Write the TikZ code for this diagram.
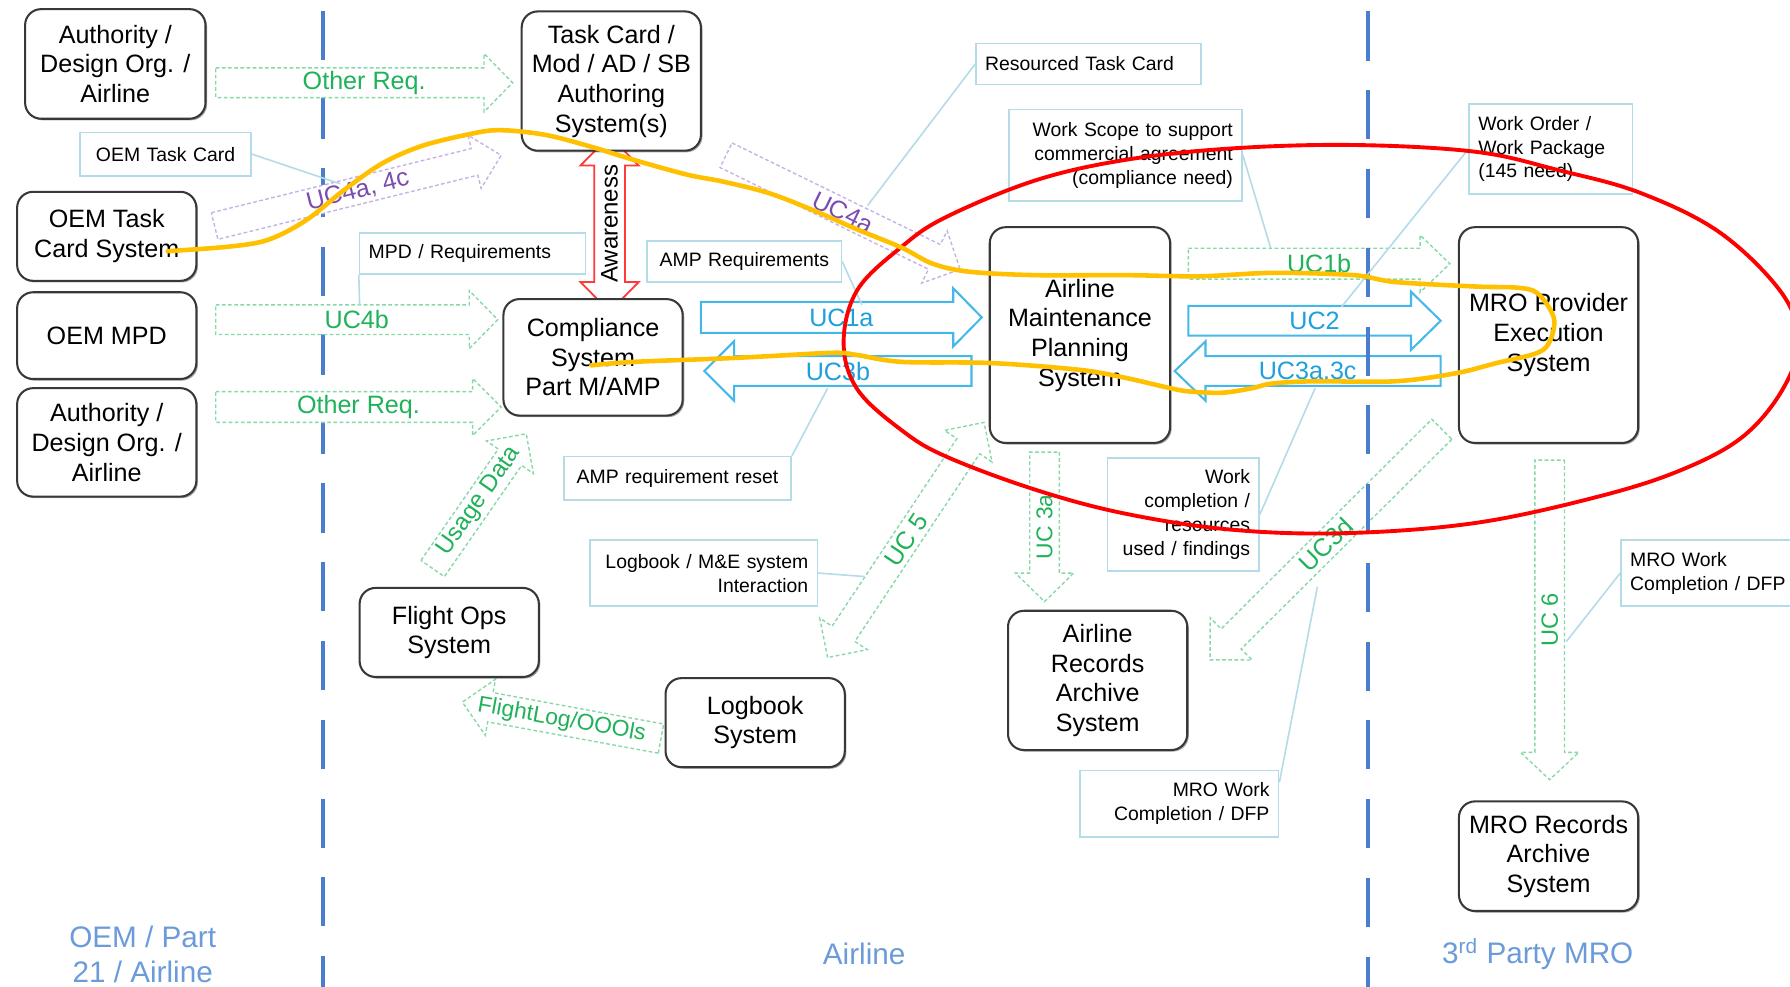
\documentclass[tikz,border=0pt]{standalone}
\usepackage{fontspec}
\setmainfont{Liberation Sans}
\usetikzlibrary{calc,shadows}

\definecolor{lanecol}{HTML}{4A7DCC}
\definecolor{lanetxt}{HTML}{6B9BD9}
\definecolor{callcol}{HTML}{B3DCE8}
\definecolor{grnline}{HTML}{86D9A6}
\definecolor{grntxt}{HTML}{1FB259}
\definecolor{purline}{HTML}{C6B1E4}
\definecolor{purtxt}{HTML}{7B4DB3}
\definecolor{cyanline}{HTML}{45B8EA}
\definecolor{cyantxt}{HTML}{1FA0DE}
\definecolor{awarecol}{HTML}{FF3A3A}
\definecolor{hiorange}{HTML}{FFC000}
\definecolor{hired}{HTML}{FF0000}

% one-headed block arrow: style, tail, tip, body half width, head half width, head length
\newcommand\flowarrow[6]{%
  \coordinate (fa-h) at ($(#3)!#6!(#2)$);
  \draw[#1] ($(#2)!#4!90:(#3)$) -- ($(fa-h)!#4!90:(#3)$) -- ($(fa-h)!#5!90:(#3)$) -- (#3)
    -- ($(fa-h)!#5!-90:(#3)$) -- ($(fa-h)!#4!-90:(#3)$) -- ($(#2)!#4!-90:(#3)$) -- cycle;
}
% two-headed block arrow: style, end a, end b, body half width, head half width, head length
\newcommand\twowayarrow[6]{%
  \coordinate (ta-a) at ($(#2)!#6!(#3)$);
  \coordinate (ta-b) at ($(#3)!#6!(#2)$);
  \draw[#1] (#2) -- ($(ta-a)!#5!90:(#3)$) -- ($(ta-a)!#4!90:(#3)$) -- ($(ta-b)!#4!-90:(#2)$)
    -- ($(ta-b)!#5!-90:(#2)$) -- (#3) -- ($(ta-b)!#5!90:(#2)$) -- ($(ta-b)!#4!90:(#2)$)
    -- ($(ta-a)!#4!-90:(#3)$) -- ($(ta-a)!#5!-90:(#3)$) -- cycle;
}

\tikzset{
  sys/.style={draw=black!78, line width=0.9pt, rounded corners=7pt, fill=white, align=center,
    font=\fontsize{11}{13}\selectfont, inner sep=1pt,
    drop shadow={shadow xshift=0.7pt, shadow yshift=-0.7pt, opacity=0.35, fill=black}},
  callout/.style={draw=callcol, line width=0.7pt, fill=white,
    font=\fontsize{8.5}{10.5}\selectfont, inner xsep=4pt, inner ysep=1pt},
  leader/.style={draw=callcol, line width=0.7pt},
  lane/.style={draw=lanecol, line width=2pt, dash pattern=on 21.5pt off 13pt},
  lanelbl/.style={text=lanetxt, font=\fontsize{13}{15.5}\selectfont, align=center},
  grnarrow/.style={draw=grnline, fill=white, line width=0.6pt, dash pattern=on 1.6pt off 1.1pt},
  purarrow/.style={draw=purline, fill=white, line width=0.6pt, dash pattern=on 1.6pt off 1.1pt},
  cyanarrow/.style={draw=cyanline, fill=white, line width=0.9pt},
  awarearrow/.style={draw=awarecol, fill=white, line width=0.8pt},
  grnlbl/.style={text=grntxt, font=\fontsize{11}{13}\selectfont, inner sep=0pt},
  purlbl/.style={text=purtxt, font=\fontsize{11}{13}\selectfont, inner sep=0pt},
  cyanlbl/.style={text=cyantxt, font=\fontsize{11}{13}\selectfont, inner sep=0pt},
}

\begin{document}
\begin{tikzpicture}[x=0.5pt, y=-0.5pt]
\useasboundingbox (0,0) rectangle (1568,864);
\clip (0,0) rectangle (1568,864);
\fill[white] (0,0) rectangle (1568,864);

% lane divider between OEM and airline
\coordinate (laneAtop) at (283,9.5);
\coordinate (laneAbot) at (283,880);
\draw[lane] (laneAtop) -- (laneAbot);

% ---- arrow end points ----
\coordinate (oq1t) at (189,72.5);   \coordinate (oq1p) at (449,72.5);
\coordinate (uc4act) at (188,198);  \coordinate (uc4acp) at (439,136);
\coordinate (uc4bt) at (189,280);   \coordinate (uc4bp) at (436,280);
\coordinate (oq2t) at (189,356.5);  \coordinate (oq2p) at (439,356.5);
\coordinate (awa) at (534,119);     \coordinate (awb) at (534,273);
\coordinate (usgt) at (379,498);    \coordinate (usgp) at (461,380);
\coordinate (fltt) at (579,647);    \coordinate (fltp) at (405,615);
\coordinate (uc5a) at (725,576);    \coordinate (uc5b) at (862,370);
\coordinate (uc4at) at (636,136);   \coordinate (uc4ap) at (841,236);
\coordinate (uc1at) at (614,278);   \coordinate (uc1ap) at (860,278);
\coordinate (uc3bt) at (851,325);   \coordinate (uc3bp) at (617,325);
\coordinate (uc1bt) at (1041,231);  \coordinate (uc1bp) at (1270,231);
\coordinate (uc2t) at (1041,281);   \coordinate (uc2p) at (1262,281);
\coordinate (uc3act) at (1262,325); \coordinate (uc3acp) at (1029,325);
\coordinate (uc3at) at (915,396);   \coordinate (uc3ap) at (915,527);
\coordinate (uc3dt) at (1263,376);  \coordinate (uc3dp) at (1060,578);
\coordinate (uc6t) at (1357.5,403); \coordinate (uc6p) at (1357.5,683);

% ---- block arrows ----
\flowarrow{grnarrow}{oq1t}{oq1p}{6.5pt}{12.75pt}{12.5pt}
\flowarrow{purarrow}{uc4act}{uc4acp}{6pt}{12pt}{12pt}
\flowarrow{grnarrow}{uc4bt}{uc4bp}{6.5pt}{12.75pt}{12.5pt}
\flowarrow{grnarrow}{oq2t}{oq2p}{6.75pt}{12.5pt}{12.5pt}
\twowayarrow{awarearrow}{awa}{awb}{6.75pt}{12.75pt}{13pt}
\flowarrow{grnarrow}{usgt}{usgp}{6.25pt}{12.5pt}{12.5pt}
\flowarrow{grnarrow}{fltt}{fltp}{6.5pt}{12.5pt}{12.5pt}
\twowayarrow{grnarrow}{uc5a}{uc5b}{6pt}{12.5pt}{12.5pt}
\flowarrow{purarrow}{uc4at}{uc4ap}{6pt}{12.75pt}{12.5pt}
\flowarrow{cyanarrow}{uc1at}{uc1ap}{6.75pt}{12.75pt}{12.5pt}
\flowarrow{cyanarrow}{uc3bt}{uc3bp}{6.5pt}{13pt}{13pt}
\flowarrow{grnarrow}{uc1bt}{uc1bp}{6.75pt}{12.5pt}{13pt}
\flowarrow{cyanarrow}{uc2t}{uc2p}{6.5pt}{12.75pt}{13pt}
\flowarrow{cyanarrow}{uc3act}{uc3acp}{6.5pt}{13pt}{13.5pt}
\flowarrow{grnarrow}{uc3at}{uc3ap}{6.5pt}{12.75pt}{12.5pt}
\flowarrow{grnarrow}{uc3dt}{uc3dp}{6.2pt}{13pt}{13pt}
\flowarrow{grnarrow}{uc6t}{uc6p}{6.5pt}{12.75pt}{12pt}

% ---- arrow labels ----
\node[grnlbl] (oq1l) at ($(oq1t)!0.5!(oq1p)$) {Other Req.};
\node[purlbl, rotate=14] (uc4acl) at ($(uc4act)!0.5!(uc4acp)$) {UC4a, 4c};
\node[grnlbl] (uc4bl) at ($(uc4bt)!0.5!(uc4bp)$) {UC4b};
\node[grnlbl] (oq2l) at ($(oq2t)!0.5!(oq2p)$) {Other Req.};
\node[inner sep=0pt, rotate=90, font=\fontsize{10.5}{12}\selectfont] (awl) at ($(awa)!0.5!(awb)$) {Awareness};
\node[grnlbl, rotate=55, font=\fontsize{10.5}{12}\selectfont] (usgl) at ($(usgt)!0.5!(usgp)$) {Usage Data};
\node[grnlbl, rotate=-10, font=\fontsize{10}{12}\selectfont] (fltl) at ($(fltt)!0.5!(fltp)$) {FlightLog/OOOls};
\node[grnlbl, rotate=56] (uc5l) at ($(uc5a)!0.5!(uc5b)$) {UC 5};
\node[purlbl, rotate=-26] (uc4al) at ($(uc4at)!0.5!(uc4ap)$) {UC4a};
\node[cyanlbl] (uc1al) at ($(uc1at)!0.5!(uc1ap)$) {UC1a};
\node[cyanlbl] (uc3bl) at ($(uc3bt)!0.5!(uc3bp)$) {UC3b};
\node[grnlbl] (uc1bl) at ($(uc1bt)!0.5!(uc1bp)$) {UC1b};
\node[cyanlbl] (uc2l) at ($(uc2t)!0.5!(uc2p)$) {UC2};
\node[cyanlbl] (uc3acl) at ($(uc3act)!0.5!(uc3acp)$) {UC3a.3c};
\node[grnlbl, rotate=90, font=\fontsize{10}{12}\selectfont] (uc3al) at ($(uc3at)!0.5!(uc3ap)$) {UC 3a};
\node[grnlbl, rotate=45] (uc3dl) at ($(uc3dt)!0.5!(uc3dp)$) {UC3d};
\node[grnlbl, rotate=90, font=\fontsize{10.3}{12}\selectfont] (uc6l) at ($(uc6t)!0.5!(uc6p)$) {UC 6};

% lane divider between airline and MRO
\coordinate (laneBtop) at (1198.5,10);
\coordinate (laneBbot) at (1198.5,880);
\draw[lane] (laneBtop) -- (laneBbot);

% ---- systems ----
\node[sys, minimum width=79pt, minimum height=48pt] (auth1) at (101,56) {Authority /\\Design Org. /\\Airline};
\node[sys, minimum width=78.5pt, minimum height=61pt] (tcauth) at (535.5,71) {Task Card /\\Mod / AD / SB\\Authoring\\System(s)};
\node[sys, minimum width=78.5pt, minimum height=39pt] (oemtc) at (93.5,207) {OEM Task\\Card System};
\node[sys, minimum width=78.5pt, minimum height=38pt] (oemmpd) at (93.5,294) {OEM MPD};
\node[sys, minimum width=78.5pt, minimum height=47.5pt] (auth2) at (93.5,387.5) {Authority /\\Design Org. /\\Airline};
\node[sys, minimum width=78.5pt, minimum height=51pt] (compl) at (519.5,313) {Compliance\\System\\Part M/AMP};
\node[sys, minimum width=79pt, minimum height=94.5pt] (amp) at (946,293.5) {Airline\\Maintenance\\Planning\\System};
\node[sys, minimum width=78.5pt, minimum height=94.5pt] (mroexe) at (1356.5,293.5) {MRO Provider\\Execution\\System};
\node[sys, minimum width=78.5pt, minimum height=39pt] (flops) at (393.5,554) {Flight Ops\\System};
\node[sys, minimum width=78.5pt, minimum height=39pt] (logbook) at (661.5,633) {Logbook\\System};
\node[sys, minimum width=78.5pt, minimum height=61pt] (arch) at (961.5,596) {Airline\\Records\\Archive\\System};
\node[sys, minimum width=78.5pt, minimum height=48pt] (mroarch) at (1356.5,750) {MRO Records\\Archive\\System};

% ---- callouts ----
\node[callout, text width=67pt, align=center, minimum height=19pt] (c1) at (145,135) {OEM Task Card};
\node[callout, text width=91pt, align=left, minimum height=18pt] (c2) at (414,222) {MPD / Requirements};
\node[callout, text width=77pt, align=center, minimum height=18pt] (c3) at (652,229) {AMP Requirements};
\node[callout, text width=90.5pt, align=left, minimum height=18pt] (c4) at (953.5,56) {Resourced Task Card};
\node[callout, text width=94pt, align=right, minimum height=40pt] (c5) at (986,136) {Work Scope to support\\commercial agreement\\(compliance need)};
\node[callout, text width=63.5pt, align=left, minimum height=39.5pt] (c6) at (1358.5,130.5) {Work Order /\\Work Package\\(145 need)};
\node[callout, text width=91.5pt, align=center, minimum height=19pt] (c7) at (593.5,419) {AMP requirement reset};
\node[callout, text width=91.5pt, align=right, minimum height=29pt] (c8) at (616.5,502) {Logbook / M\&E system\\Interaction};
\node[callout, text width=58.5pt, align=right, minimum height=49.5pt] (c9) at (1036.5,450.5) {Work\\completion /\\resources\\used / findings};
\node[callout, text width=79pt, align=right, minimum height=29pt] (c10) at (1033,704) {MRO Work\\Completion / DFP};
\node[callout, text width=82pt, align=left, minimum height=29pt] (c11) at (1510,502) {MRO Work\\Completion / DFP};

\coordinate (c1e) at (298,161);
\coordinate (c2e) at (315,267);
\coordinate (c3e) at (755,267);
\coordinate (c4e) at (760,180);
\coordinate (c5e) at (1113,217);
\coordinate (c6e) at (1175,269);
\coordinate (c7e) at (725,340);
\coordinate (c8e) at (757,505);
\coordinate (c9e) at (1152,340);
\coordinate (c10e) at (1154,514);
\coordinate (c11e) at (1372,562);
\draw[leader] (c1.east) -- (c1e);
\draw[leader] (c2.south west) -- (c2e);
\draw[leader] (c3.east) -- (c3e);
\draw[leader] (c4.west) -- (c4e);
\draw[leader] (c5.east) -- (c5e);
\draw[leader] (c6.west) -- (c6e);
\draw[leader] (c7.north east) -- (c7e);
\draw[leader] (c8.east) -- (c8e);
\draw[leader] (c9.east) -- (c9e);
\draw[leader] ($(c10.north east)+(0,11)$) -- (c10e);
\draw[leader] (c11.west) -- (c11e);

% ---- lane titles ----
\node[lanelbl] (laneoem) at (125,836) {OEM / Part\\21 / Airline};
\node[lanelbl] (laneair) at (757,836) {Airline};
\node[lanelbl] (lanemro) at (1347,836) {3\textsuperscript{rd} Party MRO};

% ---- hand-drawn highlight marks ----
\draw[hired, line width=1.7pt] plot[smooth cycle, tension=0.6] coordinates {
  (739,300) (751,254) (790,216) (829,190) (907,158) (986,140) (1079,130) (1186,127)
  (1293,133) (1365,149) (1437,169) (1507,204) (1561,257) (1575,300) (1561,342)
  (1526,383) (1472,412) (1400,435) (1293,458) (1179,467) (1079,464) (986,450)
  (907,429) (829,400) (790,377) (751,341)};
\draw[hiorange, line width=2pt, line cap=round, line join=round] plot[smooth, tension=0.55] coordinates {
  (147,220) (201,216) (235,210) (268,193) (302,166) (335,143) (369,128) (409,118)
  (437,114) (477,118) (516,128) (555,140) (602,153) (633,159) (673,169) (712,184)
  (751,201) (790,217) (817,231) (849,238) (907,241) (986,241) (1051,242) (1115,239)
  (1186,241) (1222,247) (1293,251) (1329,252) (1347,257) (1361,278) (1358,298)
  (1347,309) (1311,318) (1275,327) (1222,334) (1150,334) (1114,336) (1097,340)
  (1071,344) (1043,343) (1025,340) (986,331) (946,324) (868,318) (790,317)
  (751,311) (731,309) (673,312) (633,314) (555,317) (518,320)};
\end{tikzpicture}
\end{document}
